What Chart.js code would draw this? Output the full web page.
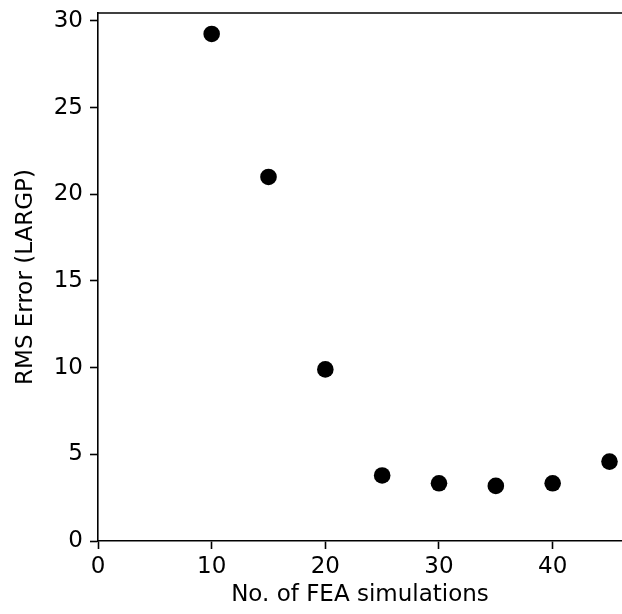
<!DOCTYPE html>
<html>
<head>
<meta charset="utf-8">
<title>RMS Error vs FEA simulations</title>
<script src="https://cdn.jsdelivr.net/npm/chart.js@4/dist/chart.umd.min.js"></script>
<style>
  html, body { margin: 0; padding: 0; background: #fff; }
  canvas { display: block; }
</style>
</head>
<body>
<canvas id="chart" width="622" height="614"></canvas>
<script>
// number of FEA simulations and the RMS error of the LARGP model at each
const simulations = [10, 15, 20, 25, 30, 35, 40, 45];
const rmsError = [29.25, 21.0, 9.9, 3.78, 3.33, 3.18, 3.33, 4.58];

const xRange = [0, 46.1];
const yRange = [0, 30.46];
const xStep = 10;
const yStep = 5;

const font = { family: 'DejaVu Sans', size: 23 };
const ink = '#000';

// matplotlib-style top spine (right spine falls outside the canvas)
const topSpine = {
    id: 'topSpine',
    afterDraw(chart) {
        const { ctx, chartArea } = chart;
        ctx.save();
        ctx.strokeStyle = ink;
        ctx.lineWidth = 1.6;
        ctx.beginPath();
        ctx.moveTo(chartArea.left, chartArea.top);
        ctx.lineTo(chart.width, chartArea.top);
        ctx.stroke();
        ctx.restore();
    }
};

new Chart(document.getElementById('chart'), {
    type: 'scatter',
    data: {
        datasets: [{
            data: simulations.map((x, i) => ({ x: x, y: rmsError[i] })),
            backgroundColor: ink,
            borderWidth: 0,
            pointRadius: 8.3,
            pointHoverRadius: 8.3
        }]
    },
    options: {
        responsive: false,
        animation: false,
        devicePixelRatio: 1,
        clip: false,
        layout: { autoPadding: false, padding: { top: 13, left: 0, right: 0, bottom: 0 } },
        plugins: { legend: { display: false }, tooltip: { enabled: false } },
        scales: {
            x: {
                type: 'linear',
                min: xRange[0],
                max: xRange[1],
                afterFit: (scale) => {
                    scale.height = 73;
                    scale.paddingLeft = 0;
                    scale.paddingRight = 0;
                },
                ticks: { stepSize: xStep, includeBounds: false, color: ink, font: font, padding: 4, maxRotation: 0 },
                grid: { drawOnChartArea: false, drawTicks: true, tickLength: 8, tickColor: ink, tickWidth: 1.6 },
                border: { display: true, color: ink, width: 1.6 },
                title: { display: true, text: 'No. of FEA simulations', color: ink, font: font, padding: { top: 0, bottom: 5.5 } }
            },
            y: {
                type: 'linear',
                min: yRange[0],
                max: yRange[1],
                afterFit: (scale) => {
                    scale.width = 98;
                    scale.paddingTop = 0;
                    scale.paddingBottom = 0;
                },
                ticks: { stepSize: yStep, includeBounds: false, color: ink, font: font, padding: 7 },
                grid: { drawOnChartArea: false, drawTicks: true, tickLength: 8, tickColor: ink, tickWidth: 1.6 },
                border: { display: true, color: ink, width: 1.6 },
                title: { display: true, text: 'RMS Error (LARGP)', color: ink, font: font, padding: { top: 12, bottom: 0 } }
            }
        }
    },
    plugins: [topSpine]
});
</script>
</body>
</html>
